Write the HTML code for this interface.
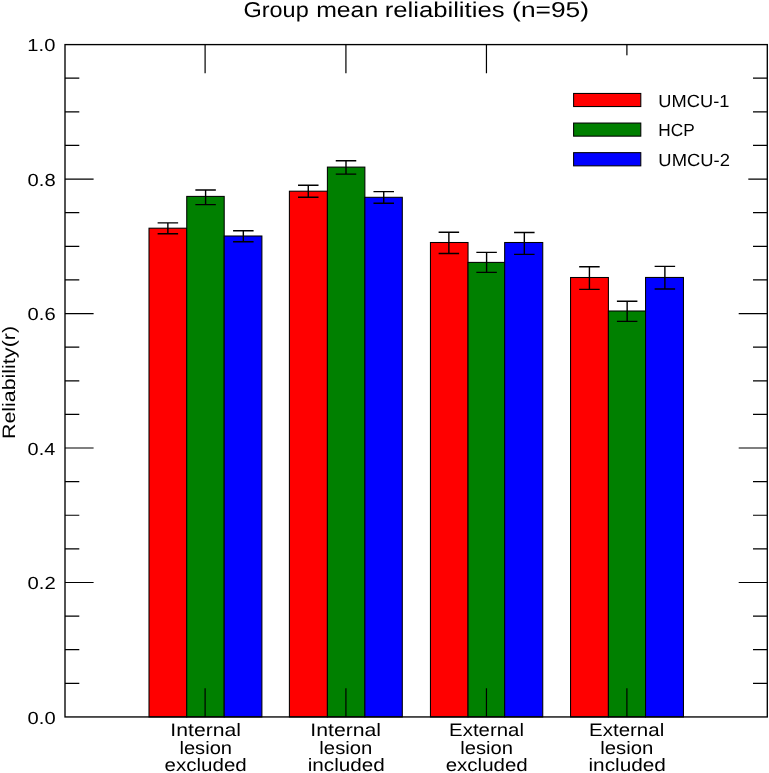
<!DOCTYPE html>
<html><head><meta charset="utf-8"><title>Group mean reliabilities</title>
<style>html,body{margin:0;padding:0;background:#fff;}svg{display:block;will-change:transform;text-rendering:geometricPrecision;}text{font-family:"Liberation Sans",sans-serif;fill:#000;}</style></head><body>
<svg width="769" height="773" viewBox="0 0 769 773">
<rect x="0" y="0" width="769" height="773" fill="#ffffff"/>
<g stroke="#000" stroke-width="1.05" stroke-linejoin="miter">
<rect x="149.00" y="228.20" width="37.74" height="488.75" fill="#ff0000"/>
<rect x="186.74" y="196.40" width="37.46" height="520.55" fill="#008000"/>
<rect x="224.20" y="236.00" width="37.70" height="480.95" fill="#0000ff"/>
<rect x="289.40" y="191.20" width="38.00" height="525.75" fill="#ff0000"/>
<rect x="327.40" y="167.10" width="37.47" height="549.85" fill="#008000"/>
<rect x="364.87" y="197.30" width="37.43" height="519.65" fill="#0000ff"/>
<rect x="430.45" y="242.50" width="37.58" height="474.45" fill="#ff0000"/>
<rect x="468.03" y="262.40" width="36.64" height="454.55" fill="#008000"/>
<rect x="504.67" y="242.50" width="38.08" height="474.45" fill="#0000ff"/>
<rect x="570.55" y="277.50" width="37.85" height="439.45" fill="#ff0000"/>
<rect x="608.40" y="311.00" width="37.15" height="405.95" fill="#008000"/>
<rect x="645.55" y="277.45" width="37.90" height="439.50" fill="#0000ff"/>
</g>
<g stroke="#000" stroke-width="1.40" fill="none">
<path d="M167.87 222.90V233.80M157.62 222.90H178.12M157.62 233.80H178.12"/>
<path d="M205.60 190.00V204.60M195.35 190.00H215.85M195.35 204.60H215.85"/>
<path d="M243.33 230.80V241.70M233.08 230.80H253.58M233.08 241.70H253.58"/>
<path d="M308.27 185.20V197.30M298.02 185.20H318.52M298.02 197.30H318.52"/>
<path d="M346.00 160.80V174.10M335.75 160.80H356.25M335.75 174.10H356.25"/>
<path d="M383.73 191.60V203.30M373.48 191.60H393.98M373.48 203.30H393.98"/>
<path d="M448.87 232.25V253.55M438.62 232.25H459.12M438.62 253.55H459.12"/>
<path d="M486.60 252.40V272.40M476.35 252.40H496.85M476.35 272.40H496.85"/>
<path d="M524.33 232.55V254.40M514.08 232.55H534.58M514.08 254.40H534.58"/>
<path d="M589.42 266.70V289.40M579.17 266.70H599.67M579.17 289.40H599.67"/>
<path d="M627.15 301.30V321.40M616.90 301.30H637.40M616.90 321.40H637.40"/>
<path d="M664.88 266.40V289.00M654.63 266.40H675.13M654.63 289.00H675.13"/>
</g>
<g stroke="#000" stroke-width="1.20" fill="none">
<path d="M65.00 683.33h14.30M767.30 683.33h-14.30M65.00 649.72h14.30M767.30 649.72h-14.30M65.00 616.10h14.30M767.30 616.10h-14.30M65.00 582.48h28.60M767.30 582.48h-28.60M65.00 548.86h14.30M767.30 548.86h-14.30M65.00 515.25h14.30M767.30 515.25h-14.30M65.00 481.63h14.30M767.30 481.63h-14.30M65.00 448.01h28.60M767.30 448.01h-28.60M65.00 414.39h14.30M767.30 414.39h-14.30M65.00 380.78h14.30M767.30 380.78h-14.30M65.00 347.16h14.30M767.30 347.16h-14.30M65.00 313.54h28.60M767.30 313.54h-28.60M65.00 279.92h14.30M767.30 279.92h-14.30M65.00 246.31h14.30M767.30 246.31h-14.30M65.00 212.69h14.30M767.30 212.69h-14.30M65.00 179.07h28.60M767.30 179.07h-28.60M65.00 145.45h14.30M767.30 145.45h-14.30M65.00 111.84h14.30M767.30 111.84h-14.30M65.00 78.22h14.30M767.30 78.22h-14.30M205.10 716.95v-28.80M205.10 44.60v28.60M345.92 716.95v-28.80M345.92 44.60v28.60M486.45 716.95v-28.80M486.45 44.60v28.60M626.90 716.95v-28.80M626.90 44.60v28.60"/>
</g>
<rect x="556" y="55.3" width="192.30" height="130" fill="#ffffff"/>
<g stroke="#000" stroke-width="1.05">
<rect x="573.6" y="93.45" width="67.2" height="13.10" fill="#ff0000"/>
<rect x="573.6" y="123.05" width="67.2" height="13.10" fill="#008000"/>
<rect x="573.6" y="152.65" width="67.2" height="13.20" fill="#0000ff"/>
</g>
<rect x="65.00" y="44.60" width="702.30" height="672.35" fill="none" stroke="#000" stroke-width="1.35"/>
<text x="243.51" y="17.00" font-size="21.5" textLength="65.19" lengthAdjust="spacingAndGlyphs">Group</text>
<text x="316.17" y="17.00" font-size="21.5" textLength="62.05" lengthAdjust="spacingAndGlyphs">mean</text>
<text x="384.66" y="17.00" font-size="21.5" textLength="119.88" lengthAdjust="spacingAndGlyphs">reliabilities</text>
<text x="512.12" y="17.00" font-size="21.5" textLength="76.95" lengthAdjust="spacingAndGlyphs">(n=95)</text>
<text x="27.64" y="724.00" font-size="17.5" textLength="28.01" lengthAdjust="spacingAndGlyphs">0.0</text>
<text x="27.53" y="589.00" font-size="17.5" textLength="28.20" lengthAdjust="spacingAndGlyphs">0.2</text>
<text x="27.60" y="455.00" font-size="17.5" textLength="27.66" lengthAdjust="spacingAndGlyphs">0.4</text>
<text x="27.61" y="320.00" font-size="17.5" textLength="28.04" lengthAdjust="spacingAndGlyphs">0.6</text>
<text x="27.62" y="186.00" font-size="17.5" textLength="28.06" lengthAdjust="spacingAndGlyphs">0.8</text>
<text x="27.37" y="51.00" font-size="17.5" textLength="27.98" lengthAdjust="spacingAndGlyphs">1.0</text>
<text x="658.39" y="107.00" font-size="17.5" textLength="71.03" lengthAdjust="spacingAndGlyphs">UMCU-1</text>
<text x="658.37" y="136.00" font-size="17.5" textLength="36.39" lengthAdjust="spacingAndGlyphs">HCP</text>
<text x="658.37" y="166.00" font-size="17.5" textLength="71.51" lengthAdjust="spacingAndGlyphs">UMCU-2</text>
<text x="170.39" y="736.00" font-size="18.0" textLength="70.56" lengthAdjust="spacingAndGlyphs">Internal</text>
<text x="179.45" y="754.00" font-size="18.0" textLength="52.64" lengthAdjust="spacingAndGlyphs">lesion</text>
<text x="164.58" y="771.00" font-size="18.0" textLength="82.18" lengthAdjust="spacingAndGlyphs">excluded</text>
<text x="310.34" y="736.00" font-size="18.0" textLength="70.75" lengthAdjust="spacingAndGlyphs">Internal</text>
<text x="319.37" y="754.00" font-size="18.0" textLength="53.04" lengthAdjust="spacingAndGlyphs">lesion</text>
<text x="307.78" y="771.00" font-size="18.0" textLength="77.08" lengthAdjust="spacingAndGlyphs">included</text>
<text x="449.13" y="736.00" font-size="18.0" textLength="74.84" lengthAdjust="spacingAndGlyphs">External</text>
<text x="460.26" y="754.00" font-size="18.0" textLength="52.82" lengthAdjust="spacingAndGlyphs">lesion</text>
<text x="445.65" y="771.00" font-size="18.0" textLength="82.15" lengthAdjust="spacingAndGlyphs">excluded</text>
<text x="589.05" y="736.00" font-size="18.0" textLength="75.18" lengthAdjust="spacingAndGlyphs">External</text>
<text x="600.26" y="754.00" font-size="18.0" textLength="53.16" lengthAdjust="spacingAndGlyphs">lesion</text>
<text x="588.48" y="771.00" font-size="18.0" textLength="77.48" lengthAdjust="spacingAndGlyphs">included</text>
<text transform="translate(15.00 439.06) rotate(-90)" font-size="18.0" textLength="91.47" lengthAdjust="spacingAndGlyphs">Reliability</text>
<text transform="translate(15.00 347.35) rotate(-90)" font-size="18.0" textLength="21.43" lengthAdjust="spacingAndGlyphs">(r)</text>
</svg></body></html>
